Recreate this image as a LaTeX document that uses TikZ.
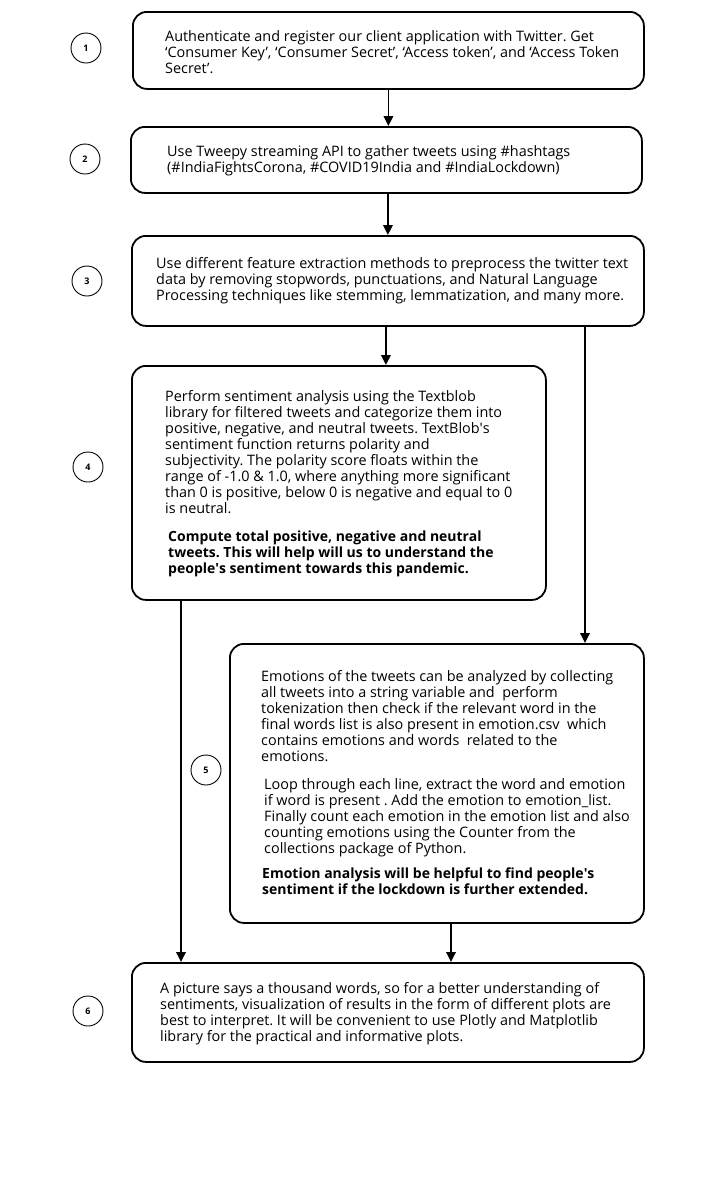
\documentclass[tikz,border=0pt]{standalone}
\usepackage{fontspec}
\setmainfont{Open Sans}
\frenchspacing
\usetikzlibrary{arrows.meta}
\begin{document}
\begin{tikzpicture}[x=1pt,y=-1pt,
 box/.style={draw, line width=1.8pt, rounded corners=14pt, anchor=north west, inner sep=0pt},
 num/.style={draw, circle, line width=0.9pt, minimum size=30pt, inner sep=0pt, font=\bfseries\fontsize{9}{9}\selectfont},
 txt/.style={anchor=north west, inner sep=0pt, align=left, font=\fontsize{14.4}{16}\selectfont},
 btxt/.style={txt, font=\bfseries\fontsize{14}{16}\selectfont},
 arr/.style={line width=1.8pt, -{Triangle[length=10pt,width=9.5pt]}}]
\useasboundingbox[fill=white] (0,0) rectangle (701,1187);

\node[box, minimum width=511pt, minimum height=77pt] (b1) at (132,11) {};
\node[box, minimum width=511pt, minimum height=66pt] (b2) at (130,126) {};
\node[box, minimum width=512pt, minimum height=90pt] (b3) at (131,235) {};
\node[box, minimum width=414pt, minimum height=234pt] (b4) at (131,365) {};
\node[box, minimum width=414pt, minimum height=279pt] (b5) at (229,643) {};
\node[box, minimum width=512pt, minimum height=99pt] (b6) at (131,962) {};

\node[num] (c1) at (86,48) {1};
\node[num] (c2) at (85,159) {2};
\node[num] (c3) at (87,281) {3};
\node[num] (c4) at (88,467) {4};
\node[num] (c5) at (206,770) {5};
\node[num] (c6) at (88,1011) {6};

\node[txt] (t1) at (165,30.8) {Authenticate and register our client application with Twitter. Get\\‘Consumer Key’, ‘Consumer Secret’, ‘Access token’, and ‘Access Token\\Secret’.};
\node[txt] (t2) at (167,145.3) {Use Tweepy streaming API to gather tweets using \#hashtags\\(\#IndiaFightsCorona, \#COVID19India and \#IndiaLockdown)};
\node[txt] (t3) at (156,257.3) {Use different feature extraction methods to preprocess the twitter text\\data by removing stopwords, punctuations, and Natural Language\\Processing techniques like stemming, lemmatization, and many more.};
\node[txt] (t4) at (165,390.3) {Perform sentiment analysis using the Textblob\\library for filtered tweets and categorize them into\\positive, negative, and neutral tweets. TextBlob\textquotesingle s\\sentiment function returns polarity and\\subjectivity. The polarity score floats within the\\range of -1.0 \& 1.0, where anything more significant\\than 0 is positive, below 0 is negative and equal to 0\\is neutral.};
\node[btxt] (t4b) at (168,530.5) {Compute total positive, negative and neutral\\tweets. This will help will us to understand the\\people\textquotesingle s sentiment towards this pandemic.};
\node[txt] (t5) at (261,670.3) {Emotions of the tweets can be analyzed by collecting\\all tweets into a string variable and~ perform\\tokenization then check if the relevant word in the\\final words list is also present in emotion.csv~ which\\contains emotions and words~ related to the\\emotions.};
\node[txt] (t5b) at (264,778.3) {Loop through each line, extract the word and emotion\\if word is present . Add the emotion to emotion\_list.\\Finally count each emotion in the emotion list and also\\counting emotions using the Counter from the\\collections package of Python.};
\node[btxt] (t5c) at (262,867.5) {Emotion analysis will be helpful to find people\textquotesingle s\\sentiment if the lockdown is further extended.};
\node[txt] (t6) at (160,982.3) {A picture says a thousand words, so for a better understanding of\\sentiments, visualization of results in the form of different plots are\\best to interpret. It will be convenient to use Plotly and Matplotlib\\library for the practical and informative plots.};

\draw[arr] (b1.south) -- (b1.south |- b2.north);
\draw[arr] (b3.north |- b2.south) -- (b3.north);
\draw[arr] ([xshift=-2pt]b3.south) -- ([xshift=-2pt]b3.south |- b4.north);
\draw[arr] ([xshift=454pt]b3.south west) -- ([xshift=454pt]b3.south west |- b5.north);
\draw[arr] ([xshift=50pt]b4.south west) -- ([xshift=50pt]b4.south west |- b6.north);
\draw[arr] ([xshift=222pt]b5.south west) -- ([xshift=222pt]b5.south west |- b6.north);
\end{tikzpicture}
\end{document}
